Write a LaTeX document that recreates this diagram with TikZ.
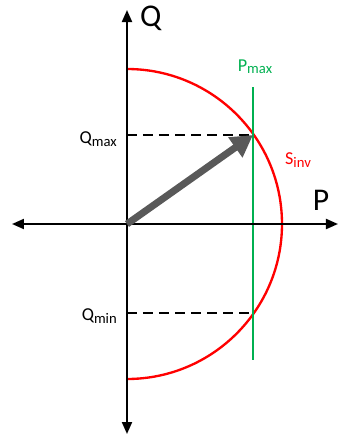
\documentclass[tikz,border=0pt]{standalone}
\usepackage{fontspec}
\setmainfont{Carlito}
\usetikzlibrary{positioning, calc, arrows.meta}
\definecolor{offgreen}{RGB}{0,176,80}
\definecolor{arrgray}{RGB}{89,89,89}

\begin{document}
\begin{tikzpicture}[
    x=0.03cm, y=0.03cm,
    axis/.style  = {line width=1.7pt, draw=black,
                    {Triangle[length=3.6mm, width=3mm]}-{Triangle[length=3.6mm, width=3mm]}},
    limit/.style = {line width=1.4pt, draw=black, dash pattern=on 3mm off 1.8mm},
    circ/.style  = {line width=2pt, draw=red},
    pline/.style = {line width=1.8pt, draw=offgreen},
    sarr/.style  = {line width=6pt, draw=arrgray,
                    -{Triangle[length=6.5mm, width=7mm, fill=arrgray]}},
    big/.style   = {font=\fontsize{27}{27}\selectfont, inner sep=0pt},
    lbl/.style   = {font=\fontsize{15.5}{15.5}\selectfont, inner sep=0pt},
]

%% ---- Layout coordinates ----
\def\rS{155}
\def\xP{126}
\def\yQ{89}

\useasboundingbox (-127,-212) rectangle (212,224);

%% ==================================================================
%% COORDINATES
%% ==================================================================
\coordinate (O) at (0,0);
\coordinate (qtop) at (0,214);
\coordinate (qbot) at (0,-210);
\coordinate (pleft) at (-115,0);
\coordinate (pright) at (211,0);
\coordinate (stop) at (0,\rS);
\coordinate (smax) at (\xP,\yQ);
\coordinate (smin) at (\xP,-\yQ);
\coordinate (gtop) at (\xP,137);
\coordinate (gbot) at (\xP,-136);

%% ==================================================================
%% CURVES AND AXES
%% ==================================================================
\draw[circ] (stop) arc[start angle=90, end angle=-90, radius=\rS];
\draw[pline] (gtop) -- (gbot);

\draw[limit] (O |- smax) -- (smax);
\draw[limit] (O |- smin) -- (smin);

\draw[axis] (qbot) -- (qtop);
\draw[axis] (pleft) -- (pright);

\draw[sarr] (O) -- (smax);

%% ==================================================================
%% LABELS
%% ==================================================================
\node[big, anchor=west] (qlbl) at (13,206) {Q};
\node[big] (plbl) at (194,24) {P};
\node[lbl, anchor=east] (qmax) at (-10,85)
    {Q\raisebox{-2pt}{\fontsize{12.5}{12.5}\selectfont max}};
\node[lbl, anchor=east] (qmin) at (-10,-92)
    {Q\raisebox{-2pt}{\fontsize{12.5}{12.5}\selectfont min}};
\node[lbl, text=offgreen] (pmax) at (128,157)
    {P\raisebox{-2pt}{\fontsize{12.5}{12.5}\selectfont max}};
\node[lbl, text=red] (sinv) at (171,64)
    {S\raisebox{-2pt}{\fontsize{12.5}{12.5}\selectfont inv}};

\end{tikzpicture}
\end{document}
